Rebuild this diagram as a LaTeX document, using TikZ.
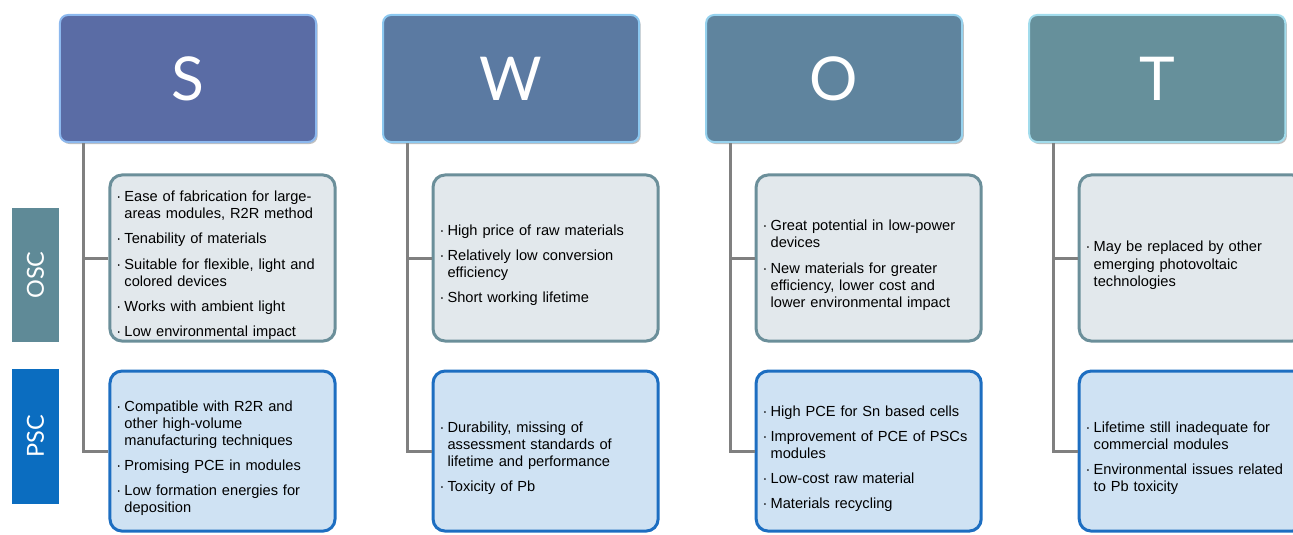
\documentclass[tikz,border=0pt]{standalone}
\usepackage{fontspec}
\setmainfont{Liberation Sans}
\newfontfamily\headfont{Lato}
\usetikzlibrary{positioning,shadows}

\definecolor{sfill}{HTML}{5A6CA5}
\definecolor{sline}{HTML}{8CB8EE}
\definecolor{wfill}{HTML}{5B7AA2}
\definecolor{wline}{HTML}{8CC8F0}
\definecolor{ofill}{HTML}{5F849E}
\definecolor{oline}{HTML}{96D2EE}
\definecolor{tfill}{HTML}{66909B}
\definecolor{tline}{HTML}{A2DCEC}
\definecolor{oscbg}{HTML}{E2E8EC}
\definecolor{oscline}{HTML}{6B8F9A}
\definecolor{pscbg}{HTML}{CFE2F3}
\definecolor{pscline}{HTML}{1D6EC1}
\definecolor{oscside}{HTML}{5F8A97}
\definecolor{pscside}{HTML}{0B6DC0}
\definecolor{linkgray}{HTML}{808080}

\newcommand{\itm}[1]{\par\setlength{\parskip}{5.7pt}\hangindent=0.2cm\hangafter=1\noindent\makebox[0.2cm][l]{\textperiodcentered}#1\par}

\tikzset{
  head/.style={rounded corners=0.2cm, minimum width=6.4cm, minimum height=3.175cm,
    line width=0.05cm, text=white, font=\headfont\fontsize{43}{43}\selectfont,
    drop shadow={shadow xshift=0.04cm, shadow yshift=-0.05cm, fill=black, opacity=0.25}},
  oscbox/.style={rounded corners=0.3cm, draw=oscline, fill=oscbg, line width=0.075cm,
    minimum height=4.15cm, text width=5.3cm, inner xsep=0.1625cm, inner ysep=0pt,
    align=left, font=\fontsize{10.4}{12.1}\selectfont},
  pscbox/.style={oscbox, draw=pscline, fill=pscbg, minimum height=4cm},
  side/.style={text=white, minimum width=3.35cm, minimum height=1.175cm, inner sep=0pt,
    font=\headfont\fontsize{16.7}{16.7}\selectfont, rotate=90},
  link/.style={draw=linkgray, line width=0.075cm}
}

\begin{document}
\begin{tikzpicture}[x=0.025cm, y=-0.025cm]
\clip (0,0) rectangle (1293,534);

% headers
\node[head, fill=sfill, draw=sline] (S) at (188,78.5) {S};
\node[head, fill=wfill, draw=wline, right=1.625cm of S] (W) {W};
\node[head, fill=ofill, draw=oline, right=1.625cm of W] (O) {O};
\node[head, fill=tfill, draw=tline, right=1.625cm of O] (T) {T};

% side labels
\node[side, fill=oscside] (OSC) at (35.5,275) {OSC};
\node[side, fill=pscside] (PSC) at (35.5,436.5) {PSC};

% OSC row
\node[oscbox] (Sosc) at (222.5,258) {
  \itm{Ease of fabrication for large-\newline areas modules, R2R method}
  \itm{Tenability of materials}
  \itm{Suitable for flexible, light and\newline colored devices}
  \itm{Works with ambient light}
  \itm{Low environmental impact}};
\node[oscbox, right=2.375cm of Sosc] (Wosc) {
  \itm{High price of raw materials}
  \itm{Relatively low conversion\newline efficiency}
  \itm{Short working lifetime}};
\node[oscbox, right=2.375cm of Wosc] (Oosc) {
  \itm{Great potential in low-power\newline devices}
  \itm{New materials for greater\newline efficiency, lower cost and\newline lower environmental impact}};
\node[oscbox, right=2.375cm of Oosc] (Tosc) {
  \itm{May be replaced by other\newline emerging photovoltaic\newline technologies}};

% PSC row
\node[pscbox, below=0.675cm of Sosc] (Spsc) {
  \itm{Compatible with R2R and\newline other high-volume\newline manufacturing techniques}
  \itm{Promising PCE in modules}
  \itm{Low formation energies for\newline deposition}};
\node[pscbox, below=0.675cm of Wosc] (Wpsc) {
  \itm{Durability, missing of\newline assessment standards of\newline lifetime and performance}
  \itm{Toxicity of Pb}};
\node[pscbox, below=0.675cm of Oosc] (Opsc) {
  \itm{High PCE for Sn based cells}
  \itm{Improvement of PCE of PSCs\newline modules}
  \itm{Low-cost raw material}
  \itm{Materials recycling}};
\node[pscbox, below=0.675cm of Tosc] (Tpsc) {
  \itm{Lifetime still inadequate for\newline commercial modules}
  \itm{Environmental issues related\newline to Pb toxicity}};

% tree lines
\foreach \c in {S,W,O,T}{
  \draw[link] ([xshift=0.625cm]\c.south west) coordinate (\c0) |- (\c psc.west);
  \draw[link] (\c osc.west) -- (\c osc.west -| \c0);
}

\end{tikzpicture}
\end{document}
